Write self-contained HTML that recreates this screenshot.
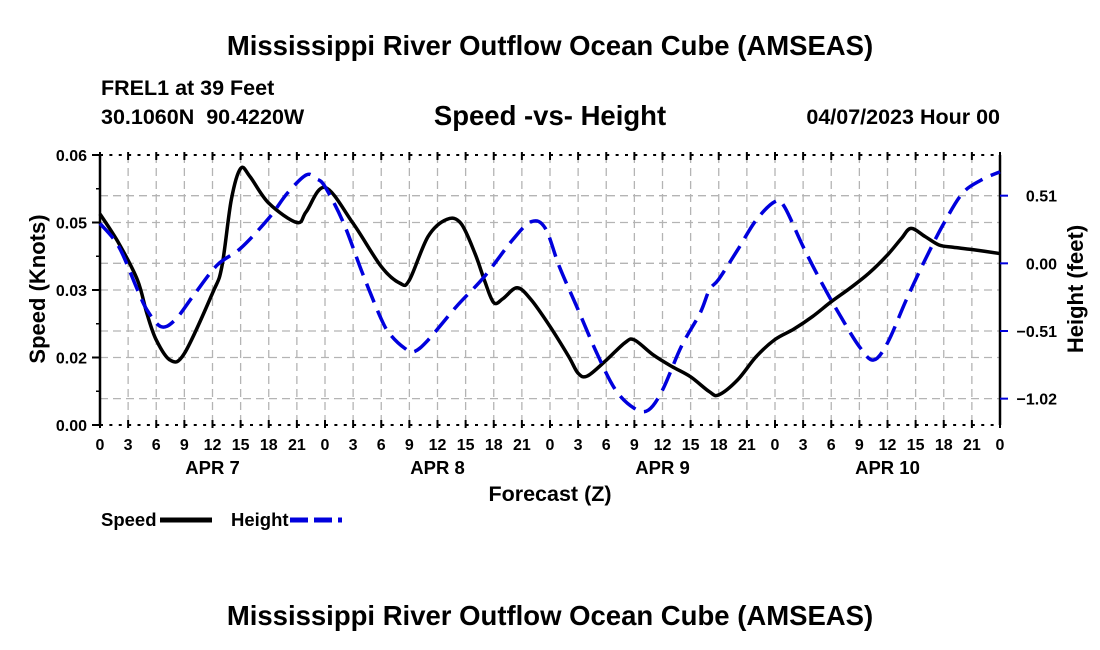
<!DOCTYPE html>
<html><head><meta charset="utf-8"><style>
body{margin:0;background:#fff;width:1100px;height:650px;overflow:hidden}
svg{display:block}
text{font-family:"Liberation Sans",Arial,sans-serif;font-weight:bold;fill:#000}
</style></head><body>
<svg id="chart" width="1100" height="650">
<text x="550" y="55" font-size="27.5" text-anchor="middle">Mississippi River Outflow Ocean Cube (AMSEAS)</text>
<text x="101" y="95" font-size="21.5">FREL1 at 39 Feet</text>
<text x="101" y="124" font-size="21.5" xml:space="preserve">30.1060N  90.4220W</text>
<text x="550" y="125" font-size="27.5" text-anchor="middle">Speed -vs- Height</text>
<text x="1000" y="124" font-size="21.5" text-anchor="end">04/07/2023 Hour 00</text>
<g id="grid"></g>
<g id="axes"></g>
<g id="series"></g>
<text transform="translate(45,289) rotate(-90)" font-size="22" text-anchor="middle">Speed (Knots)</text>
<text transform="translate(1083,289) rotate(-90)" font-size="22" text-anchor="middle">Height (feet)</text>
<text x="550" y="501" font-size="21.5" text-anchor="middle">Forecast (Z)</text>
<g>
<g><text x="101" y="526" font-size="18.5">Speed</text><line x1="160" y1="520" x2="212" y2="520" stroke="#000" stroke-width="5"/></g>
<g><text x="231" y="526" font-size="18.5">Height</text><line x1="290" y1="520" x2="342" y2="520" stroke="#0000dd" stroke-width="5" stroke-dasharray="18,6"/></g>
</g>
<text x="550" y="625" font-size="27.5" text-anchor="middle">Mississippi River Outflow Ocean Cube (AMSEAS)</text>
</svg>
<script>
const speedHours=[0,2,4,5,6,7.5,9,12,13,14,15,16,18,21,22,24,27,30,32,33,35,37,38.5,40,41,42,43,44.5,46,48,50,51,52,54,56,57,59,61,63,65,66,68,70,72,74,76,78,80,82,84,85.5,86.5,88,89.5,91,93,96];
const speedValues=[0.0469,0.0404,0.0322,0.0248,0.0189,0.0144,0.0159,0.0293,0.0352,0.050,0.057,0.0552,0.0493,0.045,0.0474,0.0528,0.0448,0.0352,0.0315,0.0322,0.0419,0.0457,0.0448,0.0381,0.0322,0.0272,0.0281,0.0305,0.0278,0.0219,0.0152,0.0115,0.0109,0.0144,0.0183,0.0189,0.0156,0.0130,0.0107,0.0074,0.0067,0.0100,0.0152,0.0190,0.0213,0.0241,0.0274,0.0304,0.0337,0.0378,0.0415,0.0437,0.0419,0.040,0.0395,0.0390,0.0381];
const heightHours=[0,2,4,5,6.5,8,10,12.5,15,18,20,22,23,24,26,28,30,31,32.5,33.5,35,38,41,44,46,47.5,49,51,53,55,57,58.5,60,62,64,65,66,68,70,72,73,75,77,79,81,82.5,84,86,88,90,92,94,96];
const heightValues=[0.30,0.126,-0.20,-0.35,-0.477,-0.427,-0.24,-0.013,0.113,0.34,0.53,0.666,0.64,0.578,0.30,-0.075,-0.42,-0.54,-0.640,-0.666,-0.578,-0.327,-0.10,0.176,0.314,0.264,-0.025,-0.35,-0.678,-0.955,-1.093,-1.106,-0.955,-0.628,-0.377,-0.2,-0.12,0.10,0.327,0.465,0.427,0.126,-0.15,-0.40,-0.628,-0.729,-0.60,-0.276,0.025,0.30,0.528,0.628,0.69];
const xTickLabels=['0','3','6','9','12','15','18','21'];
const dayLabels=['APR 7','APR 8','APR 9','APR 10'];
const leftTicks=[0,0.015,0.03,0.045,0.06];
const leftTickLabels=['0.00','0.02','0.03','0.05','0.06'];
const rightTicks=[-1.02,-0.51,0,0.51];
const rightTickLabels=['\u22121.02','\u22120.51','0.00','0.51'];

const L=100,R=1000,T=155,B=425;
const xS=h=>L+(R-L)*h/96;
const yS=v=>B-(B-T)*v/0.06;
const hMin=-1.2186,hMax=0.8166;
const yH=v=>B-(B-T)*(v-hMin)/(hMax-hMin);
const NS='http://www.w3.org/2000/svg';
function mk(tag,attrs,parent){const e=document.createElementNS(NS,tag);for(const k in attrs)e.setAttribute(k,attrs[k]);parent.appendChild(e);return e;}
const grid=document.getElementById('grid'),axes=document.getElementById('axes'),series=document.getElementById('series');
const gs={stroke:'#b4b4b4','stroke-width':1.3,'stroke-dasharray':'8,5'};
for(let h=3;h<96;h+=3){const l=mk('line',Object.assign({x1:xS(h),x2:xS(h),y1:T,y2:B},gs),grid);

}
leftTicks.slice(1,-1).forEach(v=>{const l=mk('line',Object.assign({x1:L,x2:R,y1:yS(v),y2:yS(v)},gs),grid);

});
rightTicks.forEach(v=>{const l=mk('line',Object.assign({x1:L,x2:R,y1:yH(v),y2:yH(v)},gs),grid);

});
mk('line',{x1:L,x2:L,y1:T,y2:B,stroke:'#000','stroke-width':2.5},axes);
mk('line',{x1:R,x2:R,y1:T,y2:B,stroke:'#000','stroke-width':2.5},axes);
mk('line',{x1:L,x2:R,y1:T,y2:T,stroke:'#000','stroke-width':2,'stroke-dasharray':'3,6.375'},axes);
mk('line',{x1:L,x2:R,y1:B,y2:B,stroke:'#000','stroke-width':2,'stroke-dasharray':'3,6.375'},axes);
for(let h=0;h<=96;h+=3){
mk('line',{x1:xS(h),x2:xS(h),y1:T-3,y2:T+5,stroke:'#000','stroke-width':2},axes);
mk('line',{x1:xS(h),x2:xS(h),y1:B+3,y2:B-5,stroke:'#000','stroke-width':2},axes);}
for(let h=0;h<=96;h+=3){const t=mk('text',{x:xS(h),y:B+25,'font-size':16,'text-anchor':'middle'},axes);
t.textContent=xTickLabels[(h/3)%8];

}
dayLabels.forEach((d,i)=>{const t=mk('text',{x:xS(12+24*i),y:B+49,'font-size':18.5,'text-anchor':'middle'},axes);
t.textContent=d;

});
leftTicks.forEach((v,i)=>{mk('line',{x1:L-8,x2:L,y1:yS(v),y2:yS(v),stroke:'#000','stroke-width':2},axes);
const t=mk('text',{x:L-13,y:yS(v)+6,'font-size':16,'text-anchor':'end'},axes);t.textContent=leftTickLabels[i];

});
for(let v=0.0075;v<0.06;v+=0.015){mk('line',{x1:L-4,x2:L,y1:yS(v),y2:yS(v),stroke:'#000','stroke-width':1.5},axes);}
rightTicks.forEach((v,i)=>{mk('line',{x1:R,x2:R+8,y1:yH(v),y2:yH(v),stroke:'#0000dd','stroke-width':2},axes);
const t=mk('text',{x:1057,y:yH(v)+6,'font-size':16,'text-anchor':'end'},axes);t.textContent=rightTickLabels[i];

});
function smooth(pts){let d='M'+pts[0][0]+','+pts[0][1];
for(let i=0;i<pts.length-1;i++){const p0=pts[i-1]||pts[i],p1=pts[i],p2=pts[i+1],p3=pts[i+2]||p2;
d+=' C'+(p1[0]+(p2[0]-p0[0])/6)+','+(p1[1]+(p2[1]-p0[1])/6)+' '+(p2[0]-(p3[0]-p1[0])/6)+','+(p2[1]-(p3[1]-p1[1])/6)+' '+p2[0]+','+p2[1];}
return d;}
const sp=mk('path',{d:smooth(speedHours.map((h,i)=>[xS(h),yS(speedValues[i])])),fill:'none',stroke:'#000','stroke-width':3.5,'stroke-linejoin':'round'},series);


const hp=mk('path',{d:smooth(heightHours.map((h,i)=>[xS(h),yH(heightValues[i])])),fill:'none',stroke:'#0000dd','stroke-width':3.5,'stroke-dasharray':'20,9'},series);


</script>
</body></html>
